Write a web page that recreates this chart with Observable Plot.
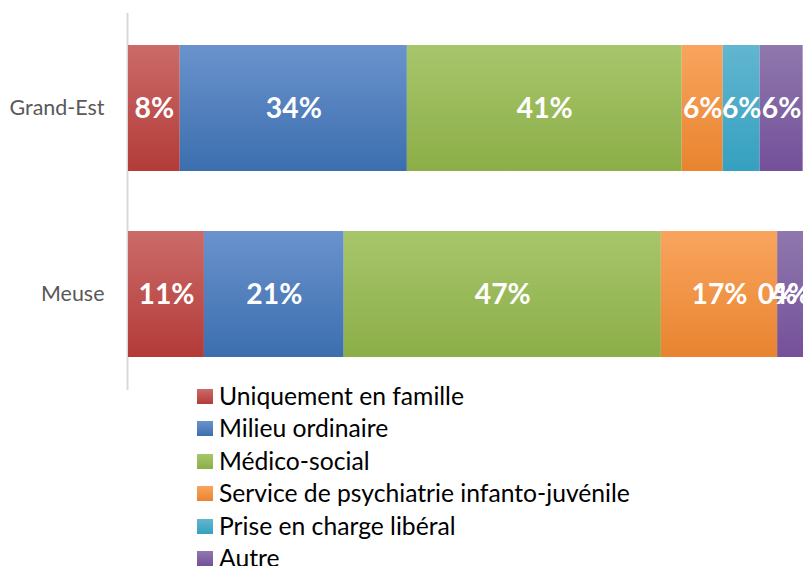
<!DOCTYPE html>
<html><head><meta charset="utf-8">
<script src="https://cdn.jsdelivr.net/npm/d3@7"></script>
<script src="https://cdn.jsdelivr.net/npm/@observablehq/plot@0.6"></script>
<style>
html,body{margin:0;padding:0;background:#fff;}
body{width:803px;height:566px;overflow:hidden;position:relative;}
#chart svg{display:block;}
#legend{position:absolute;left:197px;top:379px;font-family:Lato,"Open Sans",sans-serif;color:#000;}
.item{height:32.5px;display:flex;align-items:center;white-space:nowrap;}
.sw{width:16px;height:15px;margin-right:6px;flex:none;position:relative;top:1px;}
</style>
</head><body>
<div id="chart"></div>
<div id="legend"></div>
<script>
const regions = ["Grand-Est", "Meuse"];
const categories = ["Uniquement en famille", "Milieu ordinaire", "Médico-social", "Service de psychiatrie infanto-juvénile", "Prise en charge libéral", "Autre"];
const grandEstValues = [7.7, 33.8, 40.9, 6.1, 5.5, 6.4];
const meuseValues = [11.3, 20.8, 47.2, 17.3, 0, 3.9];
const topColors = ["#cb6b69", "#6a93cd", "#a7c66c", "#f9a45e", "#62b6d0", "#8f78ad"];
const bottomColors = ["#b33b38", "#3c6eae", "#8cae47", "#e8842f", "#35a0c0", "#74509a"];

const FONT = "Lato";
function fit(text, weight, target) {
  const ctx = document.createElement("canvas").getContext("2d");
  ctx.font = `${weight} 100px ${FONT}`;
  return 100 * target / ctx.measureText(text).width;
}
const labelSize = fit("34%", "bold", 56);
const axisSize = fit("Grand-Est", "normal", 95);
const legendSize = fit("Service de psychiatrie infanto-juvénile", "normal", 411);

const valuesByRegion = [grandEstValues, meuseValues];
const data = regions.flatMap((r, i) => categories.map((c, j) => ({region: r, category: c, value: valuesByRegion[i][j]})));

const chart = Plot.plot({
  width: 803, height: 392,
  marginLeft: 128, marginRight: 0, marginTop: 13, marginBottom: 2,
  style: {fontFamily: FONT, fontSize: axisSize + "px", color: "#595959", background: "transparent"},
  x: {domain: [0, 100.45], axis: null},
  y: {domain: regions, range: [44, 358], paddingInner: 0.32, paddingOuter: 0, label: null, tickSize: 0, tickPadding: 24},
  color: {domain: categories, range: categories.map((_, i) => `url(#grad${i})`)},
  marks: [
    Plot.ruleX([0], {stroke: "#d9d9d9", strokeWidth: 2, dx: -1}),
    Plot.barX(data, Plot.stackX({x: "value", y: "region", fill: "category"})),
    Plot.textX(data, Plot.stackX({x: "value", y: "region", text: d => Math.round(d.value) + "%", fill: "white", fontWeight: "bold", fontSize: labelSize, fontFamily: FONT}))
  ]
});
const defs = d3.select(chart).insert("defs", ":first-child");
categories.forEach((c, i) => {
  const g = defs.append("linearGradient").attr("id", "grad" + i).attr("x1", 0).attr("y1", 0).attr("x2", 0).attr("y2", 1);
  g.append("stop").attr("offset", 0).attr("stop-color", topColors[i]);
  g.append("stop").attr("offset", 1).attr("stop-color", bottomColors[i]);
});
document.getElementById("chart").appendChild(chart);

const legend = document.getElementById("legend");
legend.style.fontSize = legendSize + "px";
categories.forEach((c, i) => {
  const item = document.createElement("div");
  item.className = "item";
  const sw = document.createElement("span");
  sw.className = "sw";
  sw.style.background = `linear-gradient(${topColors[i]}, ${bottomColors[i]})`;
  const t = document.createElement("span");
  t.textContent = c;
  item.appendChild(sw); item.appendChild(t);
  legend.appendChild(item);
});
</script>
</body></html>
